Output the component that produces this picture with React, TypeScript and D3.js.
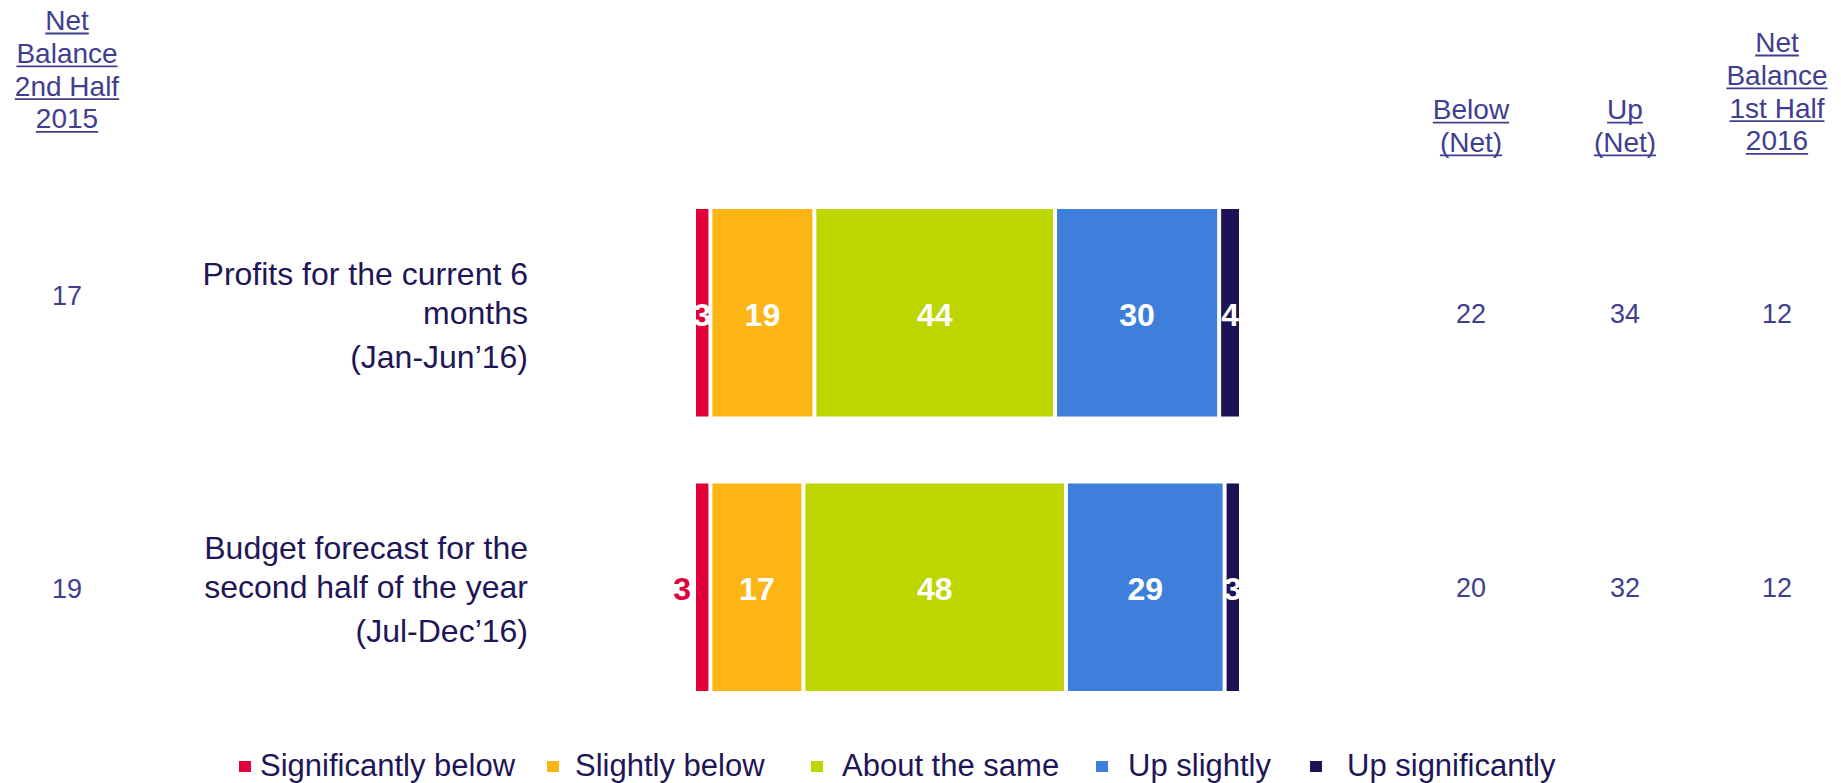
import React, { useEffect, useRef } from "react";
import * as d3 from "d3";

// Survey rows
const categories = ["profits", "budget"];
const categoryLines = [
  ["Profits for the current 6", "months", "(Jan-Jun\u201916)"],
  ["Budget forecast for the", "second half of the year", "(Jul-Dec\u201916)"],
];

// Response series (percent of respondents)
const seriesNames = [
  "Significantly below",
  "Slightly below",
  "About the same",
  "Up slightly",
  "Up significantly",
];
const seriesColors = ["#E1003A", "#FDB515", "#BED600", "#3E7FDB", "#1D1255"];
const significantlyBelow = [3, 3];
const slightlyBelow = [19, 17];
const aboutTheSame = [44, 48];
const upSlightly = [30, 29];
const upSignificantly = [4, 3];

// Side columns
const netBalance2015 = [17, 19];
const belowNet = [22, 20];
const upNet = [34, 32];
const netBalance2016 = [12, 12];

const leftHeader = ["Net", "Balance", "2nd Half", "2015"];
const belowHeader = ["Below", "(Net)"];
const upHeader = ["Up", "(Net)"];
const rightHeader = ["Net", "Balance", "1st Half", "2016"];

const W = 1841;
const H = 783;
const FONT = "'Liberation Sans', Arial, Helvetica, sans-serif";
const HEAD_COLOR = "#403E8E";
const CAT_COLOR = "#1E1656";

export default function App() {
  const ref = useRef<SVGSVGElement | null>(null);

  useEffect(() => {
    const svg = d3.select(ref.current);
    svg.selectAll("*").remove();

    const series = [significantlyBelow, slightlyBelow, aboutTheSame, upSlightly, upSignificantly];
    const rows = categories.map((c, i) => {
      const r: any = { key: c };
      seriesNames.forEach((s, j) => (r[s] = series[j][i]));
      return r;
    });
    const stacked = d3.stack<any>().keys(seriesNames)(rows);

    const x = d3.scaleLinear().domain([0, 100]).range([694, 1241]);
    const y = d3.scaleBand<string>().domain(categories).range([209, 691]).paddingInner(0.244).paddingOuter(0);
    const mid = (c: string) => (y(c) as number) + y.bandwidth() / 2;

    // Stacked segments with white separators
    stacked.forEach((layer, si) => {
      const g = svg.append("g");
      layer.forEach((d, ri) => {
        const cat = categories[ri];
        const x0 = x(d[0]);
        const x1 = x(d[1]);
        g.append("rect")
          .attr("x", x0 + 2)
          .attr("y", y(cat) as number)
          .attr("width", Math.max(0, x1 - x0 - 4))
          .attr("height", y.bandwidth())
          .attr("fill", seriesColors[si]);
      });
    });

    // Segment value labels
    stacked.forEach((layer, si) => {
      layer.forEach((d, ri) => {
        const cat = categories[ri];
        const v = d[1] - d[0];
        const outside = si === 0 && ri === 1;
        const t = svg
          .append("text")
          .attr("y", mid(cat) + 2)
          .attr("dominant-baseline", "central")
          .attr("font-family", FONT)
          .attr("font-weight", "bold")
          .attr("font-size", 32)
          .text(String(v));
        if (outside) {
          t.attr("x", x(d[0]) - 3).attr("text-anchor", "end").attr("fill", seriesColors[0]);
        } else {
          t.attr("x", (x(d[0]) + x(d[1])) / 2).attr("text-anchor", "middle").attr("fill", "#FFFFFF");
        }
      });
    });

    // Category labels
    const lineOffsets = [-39, 0, 44];
    categories.forEach((c, i) => {
      categoryLines[i].forEach((line, li) => {
        svg
          .append("text")
          .attr("x", 528)
          .attr("y", mid(c) + lineOffsets[li])
          .attr("dominant-baseline", "central")
          .attr("text-anchor", "end")
          .attr("font-family", FONT)
          .attr("font-size", 32)
          .attr("fill", CAT_COLOR)
          .text(line);
      });
    });

    // Underlined column headers
    const header = (lines: string[], cx: number, firstBaseline: number) => {
      lines.forEach((line, li) => {
        const by = firstBaseline + li * 32.8;
        const t = svg
          .append("text")
          .attr("x", cx)
          .attr("y", by)
          .attr("text-anchor", "middle")
          .attr("font-family", FONT)
          .attr("font-size", 28)
          .attr("fill", HEAD_COLOR)
          .text(line);
        const w = (t.node() as SVGTextElement).getComputedTextLength();
        svg
          .append("line")
          .attr("x1", cx - w / 2)
          .attr("x2", cx + w / 2)
          .attr("y1", by + 3.5)
          .attr("y2", by + 3.5)
          .attr("stroke", HEAD_COLOR)
          .attr("stroke-width", 1.8);
      });
    };
    const colLeft = 67;
    const colBelow = 1471;
    const colUp = 1625;
    const colRight = 1777;
    header(leftHeader, colLeft, 30);
    header(belowHeader, colBelow, 119.1);
    header(upHeader, colUp, 119.1);
    header(rightHeader, colRight, 52);

    // Column values
    const leftDy = [-17, 2];
    const value = (vals: number[], cx: number, dy: number[] | null) => {
      categories.forEach((c, i) => {
        svg
          .append("text")
          .attr("x", cx)
          .attr("y", mid(c) + (dy ? dy[i] : 1))
          .attr("dominant-baseline", "central")
          .attr("text-anchor", "middle")
          .attr("font-family", FONT)
          .attr("font-size", 27)
          .attr("fill", HEAD_COLOR)
          .text(String(vals[i]));
      });
    };
    value(netBalance2015, colLeft, leftDy);
    value(belowNet, colBelow, null);
    value(upNet, colUp, null);
    value(netBalance2016, colRight, null);

    // Legend
    const legendSquareX = [239, 547, 811, 1096, 1310];
    const legendTextX = [260, 575, 842, 1128, 1347];
    seriesNames.forEach((name, i) => {
      svg
        .append("rect")
        .attr("x", legendSquareX[i])
        .attr("y", 761)
        .attr("width", 12)
        .attr("height", 11)
        .attr("fill", seriesColors[i]);
      svg
        .append("text")
        .attr("x", legendTextX[i])
        .attr("y", 776)
        .attr("font-family", FONT)
        .attr("font-size", 31)
        .attr("fill", CAT_COLOR)
        .text(name);
    });
  }, []);

  return (
    <svg
      ref={ref}
      width={W}
      height={H}
      style={{ position: "absolute", left: 0, top: 0, background: "#FFFFFF" }}
    />
  );
}
